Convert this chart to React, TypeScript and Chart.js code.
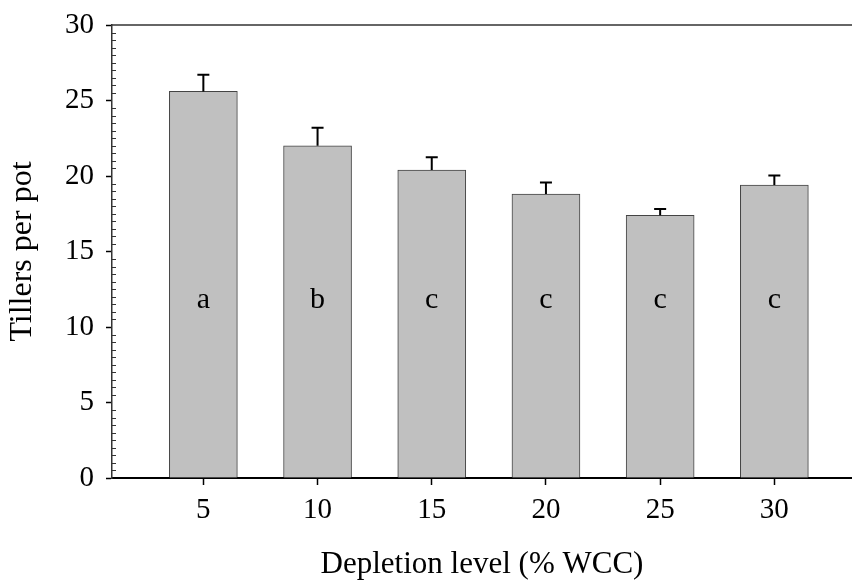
import React, { useEffect, useRef } from "react";
import { Chart, registerables } from "chart.js";

Chart.register(...registerables);

const depletion = [5, 10, 15, 20, 25, 30];
const tillers = [25.6, 22.0, 20.4, 18.8, 17.4, 19.4];
const errors = [1.1, 1.2, 0.85, 0.77, 0.42, 0.64];
const letters = ["a", "b", "c", "c", "c", "c"];
const yTicks = [0, 5, 10, 15, 20, 25, 30];
const letterLevel = 11.8;

const FONT = "'Liberation Serif', 'Times New Roman', serif";
const TICK_FS = 29;
const TITLE_FS = 31;
const YTITLE_FS = 32;
const LETTER_FS = 30;

const decorPlugin = {
  id: "decor",
  afterDatasetsDraw(chart: any) {
    const ctx = chart.ctx;
    const { left, right, top } = chart.chartArea;
    const y = chart.scales.y;
    const meta = chart.getDatasetMeta(0);
    ctx.save();
    // top frame line
    ctx.strokeStyle = "#333";
    ctx.lineWidth = 1.5;
    ctx.beginPath();
    ctx.moveTo(left, top);
    ctx.lineTo(right, top);
    ctx.stroke();
    // minor ticks inward
    ctx.lineWidth = 1;
    ctx.strokeStyle = "#333";
    for (let v = 0.5; v < 30; v += 0.5) {
      if (Math.abs(v % 5) < 1e-9) continue;
      const py = Math.round(y.getPixelForValue(v)) + 0.5;
      ctx.beginPath();
      ctx.moveTo(left, py);
      ctx.lineTo(left + 4, py);
      ctx.stroke();
    }
    // error bars
    ctx.strokeStyle = "#000";
    ctx.lineWidth = 2;
    meta.data.forEach((bar: any, i: number) => {
      const x = bar.x;
      const y0 = y.getPixelForValue(tillers[i]);
      const y1 = y.getPixelForValue(tillers[i] + errors[i]);
      ctx.beginPath();
      ctx.moveTo(x, y0);
      ctx.lineTo(x, y1);
      ctx.moveTo(x - 6, y1);
      ctx.lineTo(x + 6, y1);
      ctx.stroke();
    });
    // letters
    ctx.fillStyle = "#000";
    ctx.font = `${LETTER_FS}px ${FONT}`;
    ctx.textAlign = "center";
    ctx.textBaseline = "middle";
    meta.data.forEach((bar: any, i: number) => {
      ctx.fillText(letters[i], bar.x, y.getPixelForValue(letterLevel));
    });
    ctx.restore();
  },
};

export default function App() {
  const ref = useRef<HTMLCanvasElement>(null);
  useEffect(() => {
    document.body.style.margin = "0";
    const chart = new Chart(ref.current!, {
      type: "bar",
      data: {
        datasets: [
          {
            data: depletion.map((d, i) => ({ x: d, y: tillers[i] })),
            backgroundColor: "#c0c0c0",
            borderColor: "#444",
            borderWidth: 1,
            barThickness: 68,
          },
        ],
      },
      options: {
        responsive: false,
        animation: false,
        layout: { padding: { top: 25, left: 0, right: 0, bottom: 0 } },
        plugins: { legend: { display: false }, tooltip: { enabled: false } },
        scales: {
          x: {
            type: "linear",
            offset: false,
            min: 1,
            max: 33.4,
            afterBuildTicks: (s: any) => {
              s.ticks = depletion.map((v) => ({ value: v }));
            },
            afterFit: (s: any) => {
              s.height = 107;
              s.paddingLeft = 0;
              s.paddingRight = 0;
            },
            ticks: {
              color: "#000",
              font: { family: FONT, size: TICK_FS },
              padding: 8,
              maxRotation: 0,
              autoSkip: false,
            },
            grid: {
              offset: false,
              drawOnChartArea: false,
              tickLength: 7,
              color: "#000",
              tickWidth: 1.5,
            },
            border: { display: true, color: "#000", width: 2 },
            title: {
              display: true,
              text: "Depletion level (% WCC)",
              color: "#000",
              font: { family: FONT, size: TITLE_FS },
              padding: { top: 0, bottom: 2 },
            },
          },
          y: {
            min: 0,
            max: 30,
            afterBuildTicks: (s: any) => {
              s.ticks = yTicks.map((v) => ({ value: v }));
            },
            afterFit: (s: any) => {
              s.width = 112;
              s.paddingTop = 0;
              s.paddingBottom = 0;
            },
            ticks: {
              color: "#000",
              font: { family: FONT, size: TICK_FS },
              padding: 12,
            },
            grid: {
              drawOnChartArea: false,
              tickLength: 6,
              color: "#000",
              tickWidth: 1.5,
            },
            border: { display: true, color: "#333", width: 1.5 },
            title: {
              display: true,
              text: "Tillers per pot",
              color: "#000",
              font: { family: FONT, size: YTITLE_FS },
              padding: { top: 3, bottom: 0 },
            },
          },
        },
      },
      plugins: [decorPlugin],
    });
    return () => chart.destroy();
  }, []);
  return (
    <div style={{ position: "fixed", left: 0, top: 0, width: 852, height: 585 }}>
      <canvas ref={ref} width={852} height={585} />
    </div>
  );
}
